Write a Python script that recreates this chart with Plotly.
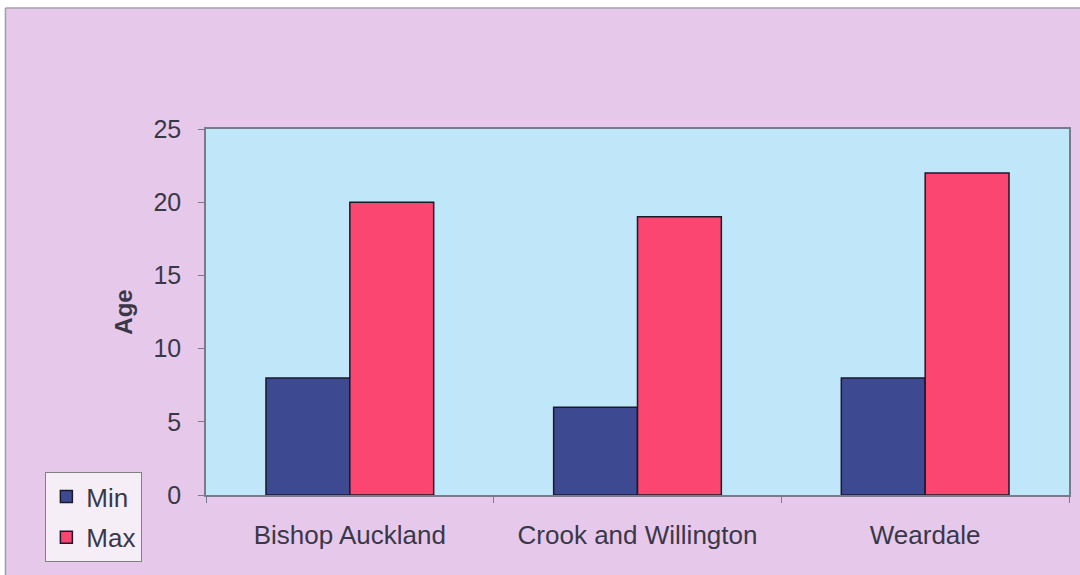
import plotly.graph_objects as go

categories = ["Bishop Auckland", "Crook and Willington", "Weardale"]
min_age = [8, 6, 8]
max_age = [20, 19, 22]
y_ticks = [0, 5, 10, 15, 20, 25]

W, H = 1080, 575
L, R, T, B = 206, 1071, 129, 495
pw, ph = R - L, B - T

def px(x):
    return (x - L) / pw

def py(y):
    return (B - y) / ph

font_color = "#3a3848"
fnt = "Liberation Sans, Arial, sans-serif"

fig = go.Figure()
fig.add_trace(go.Bar(name="Min", x=categories, y=min_age, marker=dict(color="#3d4a92", line=dict(color="#1a1a2a", width=1.5)), legendgroup="a"))
fig.add_trace(go.Bar(name="Max", x=categories, y=max_age, marker=dict(color="#fa4670", line=dict(color="#1a1a2a", width=1.5)), legendgroup="b"))

fig.update_layout(
    width=W, height=H,
    margin=dict(l=L, r=W - R, t=T, b=H - B, pad=0),
    paper_bgcolor="#e6c9ea",
    plot_bgcolor="#bfe6f9",
    barmode="group", bargap=0.417, bargroupgap=0,
    font=dict(family=fnt, size=24, color=font_color),
    showlegend=True,
    legend=dict(
        x=px(45), y=py(472), xanchor="left", yanchor="top",
        bgcolor="#f6eef6", bordercolor="#808080", borderwidth=1,
        font=dict(size=26, color=font_color),
        traceorder="grouped", tracegroupgap=4,
        itemwidth=30,
    ),
    xaxis=dict(
        showline=True, linecolor="#7a7a8a", linewidth=1.5, mirror=True,
        ticks="outside", tickson="boundaries", ticklen=6, tickcolor="#7a7a8a",
        ticklabelstandoff=16, showgrid=False,
        tickfont=dict(size=26, color=font_color),
    ),
    yaxis=dict(
        range=[0, 25], tickvals=y_ticks, showline=True, linecolor="#7a7a8a", linewidth=1.5, mirror=True,
        ticks="outside", ticklen=6, tickcolor="#7a7a8a", showgrid=False, zeroline=False,
        ticklabelstandoff=12,
        tickfont=dict(size=25, color=font_color),
        title=dict(text="<b>Age</b>", font=dict(size=24, color=font_color), standoff=14),
    ),
    shapes=[
        dict(type="rect", xref="paper", yref="paper", x0=px(-5), x1=px(W + 5), y0=py(8), y1=py(-5), fillcolor="white", line=dict(width=0)),
        dict(type="rect", xref="paper", yref="paper", x0=px(-5), x1=px(5), y0=py(-5), y1=py(H + 5), fillcolor="white", line=dict(width=0)),
        dict(type="line", xref="paper", yref="paper", x0=px(5), x1=px(W + 5), y0=py(8), y1=py(8), line=dict(color="#a0a0a8", width=1.5)),
        dict(type="line", xref="paper", yref="paper", x0=px(5), x1=px(5), y0=py(8), y1=py(H + 5), line=dict(color="#a0a0a8", width=1.5)),
    ],
)

fig.write_html("out.html", config={"displayModeBar": False},
               post_script="document.body.style.margin='0';document.body.style.overflow='hidden';")
